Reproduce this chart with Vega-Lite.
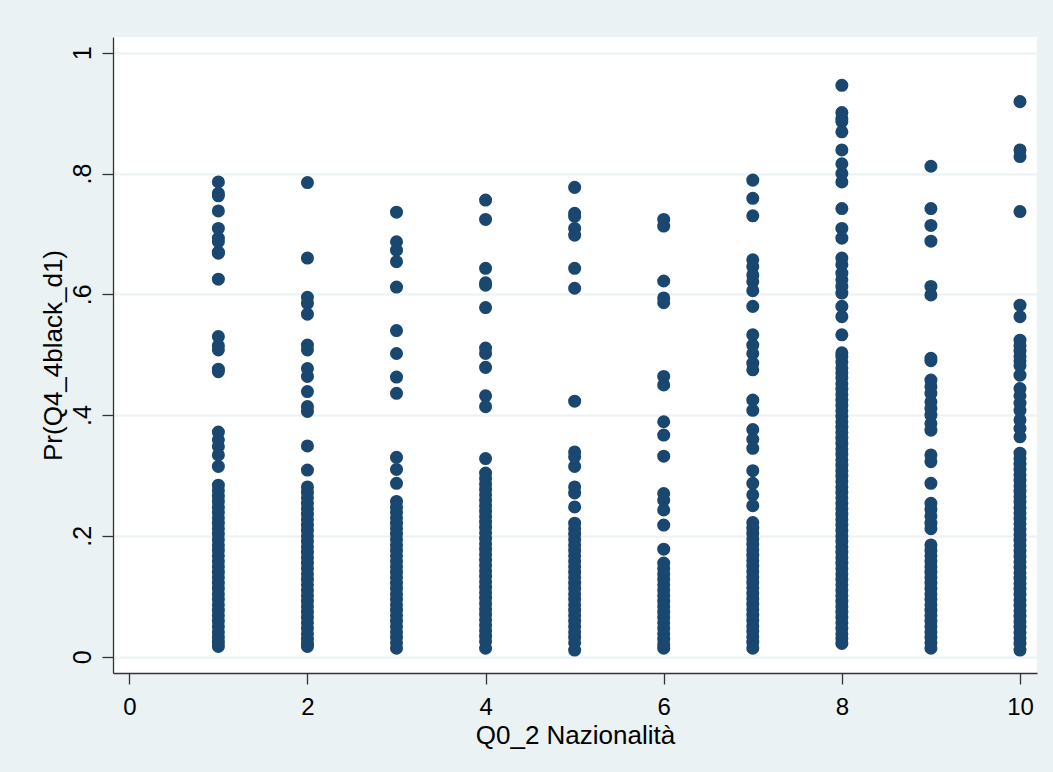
{
"$schema": "https://vega.github.io/schema/vega-lite/v6.json",
"width": 924,
"height": 636,
"autosize": {"type": "none"},
"padding": {"left": 113, "top": 37, "right": 16, "bottom": 99},
"background": "#EAF2F3",
"config": {"view": {"fill": "white", "stroke": null}, "font": "Liberation Sans"},
"data": {"values": [
{"n":1,"p":0.786},{"n":1,"p":0.767},{"n":1,"p":0.763},{"n":1,"p":0.738},{"n":1,"p":0.709},{"n":1,"p":0.693},{"n":1,"p":0.687},{"n":1,"p":0.670},{"n":1,"p":0.668},{"n":1,"p":0.625},{"n":1,"p":0.530},{"n":1,"p":0.515},{"n":1,"p":0.508},{"n":1,"p":0.476},{"n":1,"p":0.472},{"n":1,"p":0.372},{"n":1,"p":0.359},{"n":1,"p":0.348},{"n":1,"p":0.334},{"n":1,"p":0.315},
{"n":1,"p":0.284},{"n":1,"p":0.275},{"n":1,"p":0.266},{"n":1,"p":0.257},{"n":1,"p":0.248},{"n":1,"p":0.239},{"n":1,"p":0.230},{"n":1,"p":0.221},{"n":1,"p":0.212},{"n":1,"p":0.203},{"n":1,"p":0.194},{"n":1,"p":0.185},{"n":1,"p":0.176},{"n":1,"p":0.167},{"n":1,"p":0.158},{"n":1,"p":0.149},{"n":1,"p":0.140},{"n":1,"p":0.131},{"n":1,"p":0.122},{"n":1,"p":0.113},{"n":1,"p":0.104},{"n":1,"p":0.095},{"n":1,"p":0.086},{"n":1,"p":0.077},{"n":1,"p":0.068},{"n":1,"p":0.059},{"n":1,"p":0.050},{"n":1,"p":0.041},{"n":1,"p":0.032},{"n":1,"p":0.024},{"n":1,"p":0.017},
{"n":2,"p":0.785},{"n":2,"p":0.660},{"n":2,"p":0.595},{"n":2,"p":0.585},{"n":2,"p":0.567},{"n":2,"p":0.516},{"n":2,"p":0.508},{"n":2,"p":0.477},{"n":2,"p":0.464},{"n":2,"p":0.439},{"n":2,"p":0.414},{"n":2,"p":0.406},{"n":2,"p":0.349},{"n":2,"p":0.309},
{"n":2,"p":0.281},{"n":2,"p":0.272},{"n":2,"p":0.263},{"n":2,"p":0.254},{"n":2,"p":0.245},{"n":2,"p":0.236},{"n":2,"p":0.227},{"n":2,"p":0.218},{"n":2,"p":0.209},{"n":2,"p":0.200},{"n":2,"p":0.191},{"n":2,"p":0.182},{"n":2,"p":0.173},{"n":2,"p":0.164},{"n":2,"p":0.155},{"n":2,"p":0.146},{"n":2,"p":0.137},{"n":2,"p":0.128},{"n":2,"p":0.119},{"n":2,"p":0.110},{"n":2,"p":0.101},{"n":2,"p":0.092},{"n":2,"p":0.083},{"n":2,"p":0.074},{"n":2,"p":0.065},{"n":2,"p":0.056},{"n":2,"p":0.047},{"n":2,"p":0.038},{"n":2,"p":0.029},{"n":2,"p":0.021},{"n":2,"p":0.017},
{"n":3,"p":0.736},{"n":3,"p":0.687},{"n":3,"p":0.673},{"n":3,"p":0.654},{"n":3,"p":0.612},{"n":3,"p":0.540},{"n":3,"p":0.502},{"n":3,"p":0.463},{"n":3,"p":0.436},{"n":3,"p":0.330},{"n":3,"p":0.310},{"n":3,"p":0.287},
{"n":3,"p":0.257},{"n":3,"p":0.248},{"n":3,"p":0.239},{"n":3,"p":0.230},{"n":3,"p":0.221},{"n":3,"p":0.212},{"n":3,"p":0.203},{"n":3,"p":0.194},{"n":3,"p":0.185},{"n":3,"p":0.176},{"n":3,"p":0.167},{"n":3,"p":0.158},{"n":3,"p":0.149},{"n":3,"p":0.140},{"n":3,"p":0.131},{"n":3,"p":0.122},{"n":3,"p":0.113},{"n":3,"p":0.104},{"n":3,"p":0.095},{"n":3,"p":0.086},{"n":3,"p":0.077},{"n":3,"p":0.068},{"n":3,"p":0.059},{"n":3,"p":0.050},{"n":3,"p":0.041},{"n":3,"p":0.032},{"n":3,"p":0.023},{"n":3,"p":0.014},
{"n":4,"p":0.756},{"n":4,"p":0.724},{"n":4,"p":0.643},{"n":4,"p":0.619},{"n":4,"p":0.615},{"n":4,"p":0.578},{"n":4,"p":0.511},{"n":4,"p":0.502},{"n":4,"p":0.479},{"n":4,"p":0.432},{"n":4,"p":0.414},{"n":4,"p":0.328},
{"n":4,"p":0.304},{"n":4,"p":0.295},{"n":4,"p":0.286},{"n":4,"p":0.277},{"n":4,"p":0.268},{"n":4,"p":0.259},{"n":4,"p":0.250},{"n":4,"p":0.241},{"n":4,"p":0.232},{"n":4,"p":0.223},{"n":4,"p":0.214},{"n":4,"p":0.205},{"n":4,"p":0.196},{"n":4,"p":0.187},{"n":4,"p":0.178},{"n":4,"p":0.169},{"n":4,"p":0.160},{"n":4,"p":0.151},{"n":4,"p":0.142},{"n":4,"p":0.133},{"n":4,"p":0.124},{"n":4,"p":0.115},{"n":4,"p":0.106},{"n":4,"p":0.097},{"n":4,"p":0.088},{"n":4,"p":0.079},{"n":4,"p":0.070},{"n":4,"p":0.061},{"n":4,"p":0.052},{"n":4,"p":0.043},{"n":4,"p":0.034},{"n":4,"p":0.025},{"n":4,"p":0.014},
{"n":5,"p":0.777},{"n":5,"p":0.734},{"n":5,"p":0.729},{"n":5,"p":0.709},{"n":5,"p":0.698},{"n":5,"p":0.643},{"n":5,"p":0.610},{"n":5,"p":0.423},{"n":5,"p":0.339},{"n":5,"p":0.331},{"n":5,"p":0.315},{"n":5,"p":0.281},{"n":5,"p":0.271},{"n":5,"p":0.248},
{"n":5,"p":0.221},{"n":5,"p":0.212},{"n":5,"p":0.203},{"n":5,"p":0.194},{"n":5,"p":0.185},{"n":5,"p":0.176},{"n":5,"p":0.167},{"n":5,"p":0.158},{"n":5,"p":0.149},{"n":5,"p":0.140},{"n":5,"p":0.131},{"n":5,"p":0.122},{"n":5,"p":0.113},{"n":5,"p":0.104},{"n":5,"p":0.095},{"n":5,"p":0.086},{"n":5,"p":0.077},{"n":5,"p":0.068},{"n":5,"p":0.059},{"n":5,"p":0.050},{"n":5,"p":0.041},{"n":5,"p":0.032},{"n":5,"p":0.023},{"n":5,"p":0.011},
{"n":6,"p":0.724},{"n":6,"p":0.713},{"n":6,"p":0.622},{"n":6,"p":0.594},{"n":6,"p":0.586},{"n":6,"p":0.464},{"n":6,"p":0.450},{"n":6,"p":0.389},{"n":6,"p":0.367},{"n":6,"p":0.332},{"n":6,"p":0.270},{"n":6,"p":0.259},{"n":6,"p":0.243},{"n":6,"p":0.218},{"n":6,"p":0.178},
{"n":6,"p":0.155},{"n":6,"p":0.146},{"n":6,"p":0.137},{"n":6,"p":0.128},{"n":6,"p":0.119},{"n":6,"p":0.110},{"n":6,"p":0.101},{"n":6,"p":0.092},{"n":6,"p":0.083},{"n":6,"p":0.074},{"n":6,"p":0.065},{"n":6,"p":0.056},{"n":6,"p":0.047},{"n":6,"p":0.038},{"n":6,"p":0.029},{"n":6,"p":0.020},{"n":6,"p":0.014},
{"n":7,"p":0.789},{"n":7,"p":0.759},{"n":7,"p":0.730},{"n":7,"p":0.657},{"n":7,"p":0.646},{"n":7,"p":0.632},{"n":7,"p":0.621},{"n":7,"p":0.606},{"n":7,"p":0.580},{"n":7,"p":0.533},{"n":7,"p":0.516},{"n":7,"p":0.502},{"n":7,"p":0.486},{"n":7,"p":0.475},{"n":7,"p":0.425},{"n":7,"p":0.408},{"n":7,"p":0.376},{"n":7,"p":0.360},{"n":7,"p":0.345},{"n":7,"p":0.308},{"n":7,"p":0.287},{"n":7,"p":0.268},{"n":7,"p":0.250},
{"n":7,"p":0.222},{"n":7,"p":0.213},{"n":7,"p":0.204},{"n":7,"p":0.195},{"n":7,"p":0.186},{"n":7,"p":0.177},{"n":7,"p":0.168},{"n":7,"p":0.159},{"n":7,"p":0.150},{"n":7,"p":0.141},{"n":7,"p":0.132},{"n":7,"p":0.123},{"n":7,"p":0.114},{"n":7,"p":0.105},{"n":7,"p":0.096},{"n":7,"p":0.087},{"n":7,"p":0.078},{"n":7,"p":0.069},{"n":7,"p":0.060},{"n":7,"p":0.051},{"n":7,"p":0.042},{"n":7,"p":0.033},{"n":7,"p":0.024},{"n":7,"p":0.014},
{"n":8,"p":0.946},{"n":8,"p":0.901},{"n":8,"p":0.891},{"n":8,"p":0.886},{"n":8,"p":0.869},{"n":8,"p":0.839},{"n":8,"p":0.816},{"n":8,"p":0.800},{"n":8,"p":0.786},{"n":8,"p":0.742},{"n":8,"p":0.709},{"n":8,"p":0.693},{"n":8,"p":0.660},{"n":8,"p":0.649},{"n":8,"p":0.635},{"n":8,"p":0.624},{"n":8,"p":0.613},{"n":8,"p":0.602},{"n":8,"p":0.580},{"n":8,"p":0.563},{"n":8,"p":0.533},{"n":8,"p":0.503},{"n":8,"p":0.497},{"n":8,"p":0.488},{"n":8,"p":0.478},{"n":8,"p":0.470},{"n":8,"p":0.462},
{"n":8,"p":0.452},{"n":8,"p":0.443},{"n":8,"p":0.434},{"n":8,"p":0.425},{"n":8,"p":0.416},{"n":8,"p":0.407},{"n":8,"p":0.398},{"n":8,"p":0.389},{"n":8,"p":0.380},{"n":8,"p":0.371},{"n":8,"p":0.362},{"n":8,"p":0.353},{"n":8,"p":0.344},{"n":8,"p":0.335},{"n":8,"p":0.326},{"n":8,"p":0.317},{"n":8,"p":0.308},{"n":8,"p":0.299},{"n":8,"p":0.290},{"n":8,"p":0.281},{"n":8,"p":0.272},{"n":8,"p":0.263},{"n":8,"p":0.254},{"n":8,"p":0.245},{"n":8,"p":0.236},{"n":8,"p":0.227},{"n":8,"p":0.218},{"n":8,"p":0.209},{"n":8,"p":0.200},{"n":8,"p":0.191},{"n":8,"p":0.182},{"n":8,"p":0.173},{"n":8,"p":0.164},{"n":8,"p":0.155},{"n":8,"p":0.146},{"n":8,"p":0.137},{"n":8,"p":0.128},{"n":8,"p":0.119},{"n":8,"p":0.110},{"n":8,"p":0.101},{"n":8,"p":0.092},{"n":8,"p":0.083},{"n":8,"p":0.074},{"n":8,"p":0.065},{"n":8,"p":0.056},{"n":8,"p":0.047},{"n":8,"p":0.038},{"n":8,"p":0.030},{"n":8,"p":0.022},
{"n":9,"p":0.812},{"n":9,"p":0.742},{"n":9,"p":0.714},{"n":9,"p":0.688},{"n":9,"p":0.613},{"n":9,"p":0.599},{"n":9,"p":0.494},{"n":9,"p":0.490},{"n":9,"p":0.458},{"n":9,"p":0.447},{"n":9,"p":0.436},{"n":9,"p":0.422},{"n":9,"p":0.411},{"n":9,"p":0.400},{"n":9,"p":0.386},{"n":9,"p":0.375},{"n":9,"p":0.334},{"n":9,"p":0.323},{"n":9,"p":0.287},{"n":9,"p":0.254},{"n":9,"p":0.244},{"n":9,"p":0.233},{"n":9,"p":0.221},{"n":9,"p":0.212},
{"n":9,"p":0.185},{"n":9,"p":0.176},{"n":9,"p":0.167},{"n":9,"p":0.158},{"n":9,"p":0.149},{"n":9,"p":0.140},{"n":9,"p":0.131},{"n":9,"p":0.122},{"n":9,"p":0.113},{"n":9,"p":0.104},{"n":9,"p":0.095},{"n":9,"p":0.086},{"n":9,"p":0.077},{"n":9,"p":0.068},{"n":9,"p":0.059},{"n":9,"p":0.050},{"n":9,"p":0.041},{"n":9,"p":0.032},{"n":9,"p":0.023},{"n":9,"p":0.014},
{"n":10,"p":0.919},{"n":10,"p":0.839},{"n":10,"p":0.828},{"n":10,"p":0.737},{"n":10,"p":0.582},{"n":10,"p":0.563},{"n":10,"p":0.524},{"n":10,"p":0.515},{"n":10,"p":0.506},{"n":10,"p":0.497},{"n":10,"p":0.490},{"n":10,"p":0.482},{"n":10,"p":0.466},{"n":10,"p":0.444},{"n":10,"p":0.432},{"n":10,"p":0.420},{"n":10,"p":0.408},{"n":10,"p":0.392},{"n":10,"p":0.378},{"n":10,"p":0.364},
{"n":10,"p":0.337},{"n":10,"p":0.328},{"n":10,"p":0.319},{"n":10,"p":0.310},{"n":10,"p":0.301},{"n":10,"p":0.292},{"n":10,"p":0.283},{"n":10,"p":0.274},{"n":10,"p":0.265},{"n":10,"p":0.256},{"n":10,"p":0.247},{"n":10,"p":0.238},{"n":10,"p":0.229},{"n":10,"p":0.220},{"n":10,"p":0.211},{"n":10,"p":0.202},{"n":10,"p":0.193},{"n":10,"p":0.184},{"n":10,"p":0.175},{"n":10,"p":0.166},{"n":10,"p":0.157},{"n":10,"p":0.148},{"n":10,"p":0.139},{"n":10,"p":0.130},{"n":10,"p":0.121},{"n":10,"p":0.112},{"n":10,"p":0.103},{"n":10,"p":0.094},{"n":10,"p":0.085},{"n":10,"p":0.076},{"n":10,"p":0.067},{"n":10,"p":0.058},{"n":10,"p":0.049},{"n":10,"p":0.040},{"n":10,"p":0.031},{"n":10,"p":0.022},{"n":10,"p":0.011}
]},
"mark": {"type": "circle", "size": 170, "color": "#1A476F", "opacity": 1},
"encoding": {
"x": {"field": "n", "type": "quantitative",
"scale": {"domain": [-0.183, 10.191], "nice": false, "zero": false},
"axis": {"values": [0, 2, 4, 6, 8, 10], "grid": false, "title": "Q0_2 Nazionalità",
"domainColor": "#333333", "domainWidth": 1.3, "tickColor": "#333333", "tickWidth": 1.3, "tickSize": 11,
"labelFontSize": 24, "labelColor": "#000000", "labelPadding": 11, "labelBaseline": "top", "labelFlush": false,
"titleFontSize": 26, "titleFontWeight": "normal", "titleColor": "#000000",
"titleX": 462, "titleY": 70, "titleAlign": "center", "titleBaseline": "alphabetic"}},
"y": {"field": "p", "type": "quantitative",
"scale": {"domain": [-0.027, 1.026], "nice": false, "zero": false},
"axis": {"values": [0, 0.2, 0.4, 0.6, 0.8, 1], "title": "Pr(Q4_4black_d1)",
"labelExpr": "replace(format(datum.value, '~g'), '0.', '.')",
"grid": true, "gridColor": "#EAF2F3", "gridWidth": 2,
"domainColor": "#333333", "domainWidth": 1.3, "tickColor": "#333333", "tickWidth": 1.3, "tickSize": 11,
"labelFontSize": 25, "labelColor": "#000000", "labelAngle": -90, "labelAlign": "center", "labelBaseline": "alphabetic", "labelPadding": 12, "labelFlush": false,
"titleFontSize": 26, "titleFontWeight": "normal", "titleColor": "#000000", "titleAngle": -90,
"titleX": -52, "titleY": 318, "titleAlign": "center", "titleBaseline": "alphabetic"}}
}
}
